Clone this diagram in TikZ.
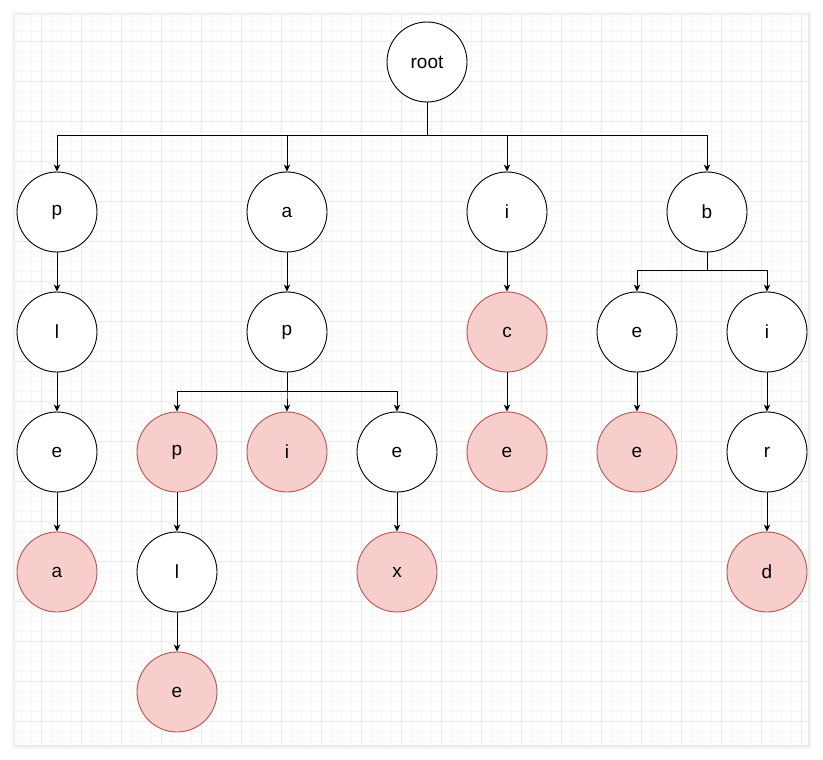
\documentclass[tikz,border=0pt]{standalone}
\usepackage{fontspec}
\setmainfont{Liberation Sans}
\usetikzlibrary{arrows.meta}

\definecolor{endfill}{HTML}{F8CECC}
\definecolor{endline}{HTML}{B85450}
\definecolor{minorgrid}{HTML}{F7F7F7}
\definecolor{majorgrid}{HTML}{EAEAEA}

\tikzset{
  trienode/.style={circle, draw=black, fill=white, line width=0.9pt,
    minimum size=80pt, inner sep=0pt, font=\fontsize{19}{22}\selectfont},
  wordend/.style={trienode, draw=endline, fill=endfill},
  arr/.style={line width=0.9pt, -{Stealth[length=7pt,width=6.5pt,inset=2pt]}}
}

\begin{document}
\begin{tikzpicture}[x=1pt, y=-1pt]
  \useasboundingbox (0,0) rectangle (823,760);

  % Drop shadow and sheet
  \fill[black!4] (12,12) rectangle (811,749);
  \fill[black!8] (14,14) rectangle (810,747);
  \fill[white] (15,15) rectangle (808,745);

  % Background grid
  \foreach \x in {21,31,...,801}
    \draw[minorgrid, line width=0.6pt] (\x,15) -- (\x,745);
  \foreach \y in {21,31,...,741}
    \draw[minorgrid, line width=0.6pt] (15,\y) -- (808,\y);
  \foreach \x in {41,81,...,801}
    \draw[majorgrid, line width=0.6pt] (\x,15) -- (\x,745);
  \foreach \y in {41,81,...,721}
    \draw[majorgrid, line width=0.6pt] (15,\y) -- (808,\y);

  % Root
  \node[trienode] (root) at (427,62) {root};

  % First level
  \node[trienode] (p) at (57,212) {p};
  \node[trienode] (a) at (287,212) {a};
  \node[trienode] (i) at (507,212) {i};
  \node[trienode] (b) at (707,212) {b};

  % Second level
  \node[trienode] (pl) at (57,332) {l};
  \node[trienode] (ap) at (287,332) {p};
  \node[wordend] (ic) at (507,332) {c};
  \node[trienode] (be) at (637,332) {e};
  \node[trienode] (bi) at (767,332) {i};

  % Third level
  \node[trienode] (ple) at (57,452) {e};
  \node[wordend] (app) at (177,452) {p};
  \node[wordend] (api) at (287,452) {i};
  \node[trienode] (ape) at (397,452) {e};
  \node[wordend] (ice) at (507,452) {e};
  \node[wordend] (bee) at (637,452) {e};
  \node[trienode] (bir) at (767,452) {r};

  % Fourth level
  \node[wordend] (plea) at (57,572) {a};
  \node[trienode] (appl) at (177,572) {l};
  \node[wordend] (apex) at (397,572) {x};
  \node[wordend] (bird) at (767,572) {d};

  % Fifth level
  \node[wordend] (apple) at (177,692) {e};

  % Branches from root
  \foreach \c in {p,a,i,b}
    \draw[arr] (root.south) -- ++(0,33) -| (\c.north);

  % Branches from p under a
  \foreach \c in {app,api,ape}
    \draw[arr] (ap.south) -- ++(0,19) -| (\c.north);

  % Branches from b
  \foreach \c in {be,bi}
    \draw[arr] (b.south) -- ++(0,18) -| (\c.north);

  % Single child links
  \draw[arr] (p) -- (pl);
  \draw[arr] (pl) -- (ple);
  \draw[arr] (ple) -- (plea);
  \draw[arr] (a) -- (ap);
  \draw[arr] (app) -- (appl);
  \draw[arr] (appl) -- (apple);
  \draw[arr] (ape) -- (apex);
  \draw[arr] (i) -- (ic);
  \draw[arr] (ic) -- (ice);
  \draw[arr] (be) -- (bee);
  \draw[arr] (bi) -- (bir);
  \draw[arr] (bir) -- (bird);
\end{tikzpicture}
\end{document}
